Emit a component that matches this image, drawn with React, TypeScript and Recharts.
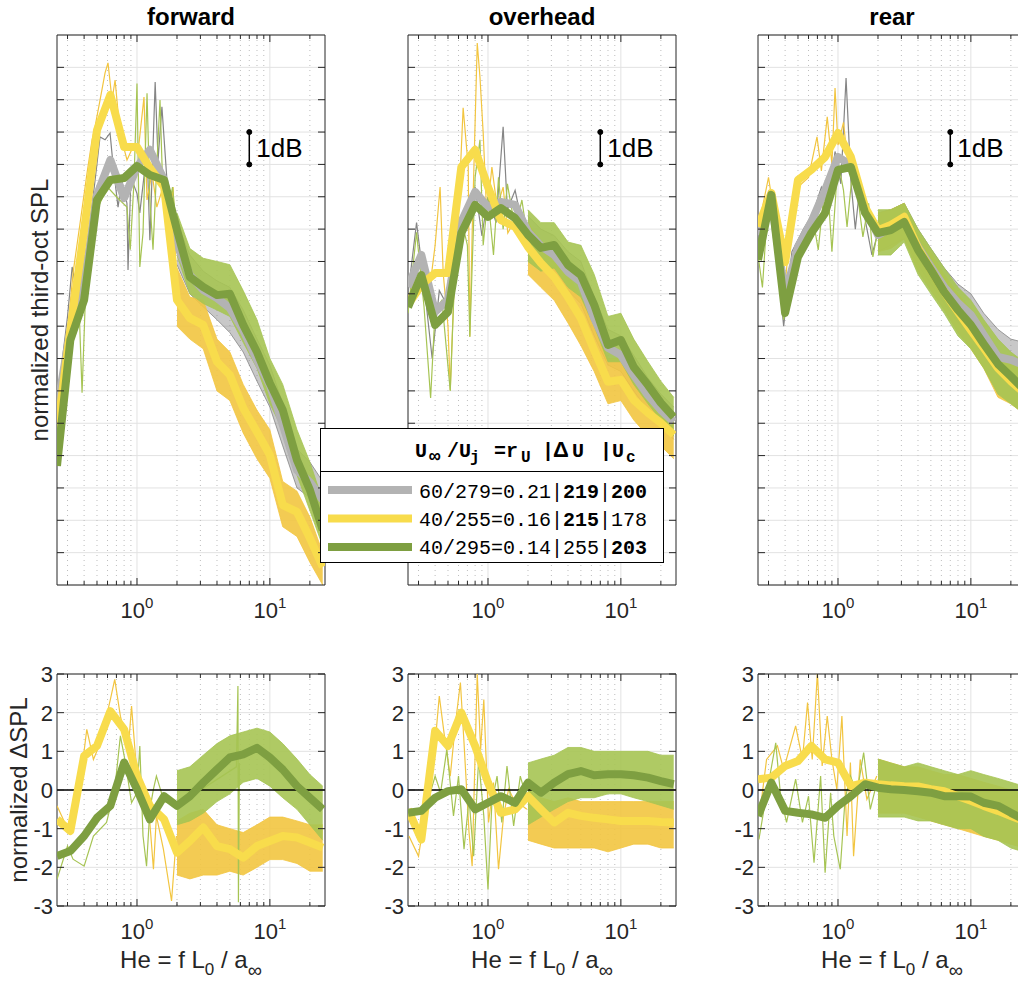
import React from 'react';
import {
  ComposedChart, Line, Area, XAxis, YAxis, CartesianGrid,
  ReferenceLine, ReferenceDot, ReferenceArea,
} from 'recharts';

// third-octave Helmholtz numbers
const HE = [0.25, 0.315, 0.4, 0.5, 0.63, 0.8, 1, 1.25, 1.6, 2, 2.5, 3.15, 4, 5, 6.3, 8, 10, 12.5, 16, 20, 25];
const BAND_START = 9; // bands start at He = 2

const X_TICKS = [0.3, 0.4, 0.5, 0.6, 0.7, 0.8, 0.9, 1, 2, 3, 4, 5, 6, 7, 8, 9, 10, 20];
const X_MAJOR = [1, 10];
const X_MINOR = [0.3, 0.4, 0.5, 0.6, 0.7, 0.8, 0.9, 2, 3, 4, 5, 6, 7, 8, 9, 20];
const TOP_Y_TICKS = [1, 2, 3, 4, 5, 6, 7, 8, 9, 10, 11, 12, 13, 14, 15, 16];
const BOT_Y_TICKS = [-3, -2, -1, 0, 1, 2, 3];

// ---- top row: normalized third-octave SPL (dB, arbitrary offset) ----
const FWD_GRAY = [5.41, 7.88, 9.27, 12.06, 13.14, 11.96, 12.92, 13.45, 12.52, 10.51, 9.58, 9.12, 8.87, 8.56, 7.88, 6.96, 6.18, 4.95, 3.55, 3.18, 2.63];
const FWD_YELLOW = [4.7, 7.88, 10.97, 14.06, 15.15, 13.54, 13.54, 12.89, 12.3, 8.81, 8.25, 8.04, 6.9, 6.49, 5.47, 4.73, 4.02, 2.47, 2.26, 1.45, 0.56];
const FWD_GREEN = [3.68, 7.57, 8.81, 11.9, 12.52, 12.58, 12.95, 12.67, 12.52, 10.97, 9.52, 9.21, 8.96, 9.0, 8.04, 7.2, 6.24, 5.41, 3.86, 2.94, 1.7];

const OVH_GRAY = [9.21, 10.2, 8.44, 8.81, 11.22, 12.15, 11.68, 11.84, 11.75, 10.91, 10.48, 10.2, 9.68, 9.37, 8.25, 7.33, 7.11, 6.49, 5.87, 5.41, 5.04];
const OVH_YELLOW = [8.66, 9.27, 9.64, 9.64, 12.92, 13.45, 12.3, 11.28, 11.07, 10.45, 9.95, 9.52, 8.9, 8.25, 7.26, 6.28, 6.34, 5.72, 5.32, 5.01, 4.64];
const OVH_GREEN = [8.59, 9.58, 8.04, 8.44, 10.88, 11.75, 11.38, 11.65, 11.34, 10.82, 10.42, 10.51, 9.89, 9.58, 8.66, 7.42, 7.57, 6.74, 6.18, 5.63, 5.19];

const REAR_GRAY = [10.82, 11.9, 8.96, 10.45, 11.22, 12.21, 13.23, 12.98, 11.65, 10.82, 11.04, 11.28, 10.45, 9.83, 9.21, 8.72, 8.35, 7.73, 7.05, 6.96, 6.8];
const REAR_YELLOW = [11.07, 12.12, 9.98, 12.52, 12.83, 13.23, 13.97, 13.23, 11.68, 10.97, 11.13, 11.38, 10.42, 9.74, 9.06, 8.44, 7.88, 7.33, 6.7, 6.3, 5.95];
const REAR_GREEN = [10.05, 12.06, 8.41, 10.14, 10.88, 11.5, 12.83, 12.92, 11.5, 10.88, 10.97, 11.22, 10.36, 9.74, 9.06, 8.5, 8.04, 7.45, 6.83, 6.45, 6.05];

// narrow-band scatter envelopes (He = 2 ... 25)
const FWD_GRAY_BAND = [[9.9, 11.2], [9.0, 10.2], [8.6, 9.7], [8.2, 9.4], [7.8, 9.2], [7.2, 8.5], [6.3, 7.6], [5.5, 6.8], [4.3, 5.6], [3.0, 4.2], [2.7, 3.8], [2.0, 3.2]];
const FWD_YELLOW_BAND = [[8.0, 9.8], [7.6, 8.9], [7.3, 8.8], [6.0, 7.6], [5.7, 7.2], [4.7, 6.2], [3.9, 5.4], [3.3, 4.8], [1.8, 3.2], [1.5, 2.9], [0.7, 2.1], [0.0, 1.0]];
const FWD_GREEN_BAND = [[10.2, 11.5], [9.0, 10.4], [8.7, 10.1], [8.5, 10.0], [8.3, 9.9], [7.5, 9.1], [6.7, 8.2], [5.6, 7.0], [4.8, 6.2], [3.4, 4.8], [2.3, 3.8], [1.2, 2.6]];
const OVH_GRAY_BAND = [[10.3, 11.4], [9.9, 11.0], [9.6, 10.8], [9.1, 10.3], [8.7, 10.0], [7.7, 8.9], [6.8, 7.9], [6.6, 7.7], [6.0, 7.1], [5.4, 6.4], [4.9, 5.9], [4.5, 5.5]];
const OVH_YELLOW_BAND = [[9.6, 11.2], [9.2, 10.6], [8.8, 10.3], [8.1, 9.6], [7.4, 8.9], [6.6, 8.0], [5.6, 7.0], [5.7, 7.0], [5.1, 6.4], [4.6, 5.9], [4.3, 5.6], [3.9, 5.2]];
const OVH_GREEN_BAND = [[10.0, 11.6], [9.7, 11.2], [9.8, 11.2], [9.2, 10.6], [8.9, 10.5], [8.0, 9.6], [6.9, 8.3], [6.9, 8.4], [6.2, 7.6], [5.6, 6.9], [5.1, 6.3], [4.6, 5.8]];
const REAR_GRAY_BAND = [[10.3, 11.5], [10.5, 11.6], [10.7, 11.8], [9.9, 11.0], [9.3, 10.4], [8.7, 9.8], [8.1, 9.3], [7.8, 9.0], [7.2, 8.4], [6.6, 7.9], [6.5, 7.6], [6.4, 7.5]];
const REAR_YELLOW_BAND = [[10.3, 11.5], [10.4, 11.6], [10.7, 11.8], [9.7, 10.9], [9.1, 10.3], [8.5, 9.6], [7.8, 9.0], [7.3, 8.5], [6.7, 7.9], [5.8, 7.1], [5.6, 6.9], [5.3, 6.6]];
const REAR_GREEN_BAND = [[10.2, 11.6], [10.2, 11.6], [10.6, 11.8], [9.6, 11.0], [9.0, 10.4], [8.4, 9.8], [7.7, 9.2], [7.3, 8.8], [6.7, 8.2], [5.9, 7.6], [5.6, 7.2], [5.3, 6.9]];

// narrow-band raw spectra at low He ([He, value])
const FWD_GRAY_RAW = [[0.25, 5.6], [0.3, 8.3], [0.325, 9.83], [0.36, 8.8], [0.42, 10.5], [0.48, 12.4], [0.527, 13.85], [0.575, 13.76], [0.627, 13.97], [0.66, 13.0], [0.72, 11.68], [0.77, 12.5], [0.84, 11.8], [0.856, 9.74], [0.9, 12.6], [1.0, 12.1], [1.05, 11.5], [1.19, 13.45], [1.25, 10.66], [1.3, 12.7], [1.37, 15.55], [1.44, 13.14], [1.54, 14.78], [1.68, 12.52], [1.87, 11.38], [2.0, 10.9]];
const FWD_YELLOW_RAW = [[0.25, 4.9], [0.303, 7.98], [0.33, 9.64], [0.373, 11.19], [0.421, 12.74], [0.459, 13.76], [0.483, 14.16], [0.527, 14.99], [0.575, 15.83], [0.605, 16.14], [0.649, 14.99], [0.684, 15.61], [0.745, 13.97], [0.841, 13.14], [0.933, 13.54], [1.017, 13.35], [1.129, 15.08], [1.189, 11.9], [1.297, 12.74], [1.41, 11.68], [1.57, 12.3], [1.77, 11.5], [1.87, 12.3], [2.0, 8.81]];
const FWD_GREEN_RAW = [[0.25, 3.8], [0.33, 8.9], [0.36, 9.5], [0.386, 5.94], [0.41, 9.0], [0.5, 11.6], [0.6, 12.3], [0.7, 12.0], [0.84, 11.68], [0.89, 10.36], [0.95, 12.5], [1.0, 15.5], [1.05, 9.83], [1.11, 10.88], [1.19, 15.2], [1.25, 11.9], [1.32, 10.36], [1.4, 12.7], [1.49, 14.99], [1.57, 12.0], [1.7, 11.5], [1.85, 12.3], [2.0, 10.9]];
const OVH_GRAY_RAW = [[0.25, 9.0], [0.29, 11.2], [0.33, 9.3], [0.38, 7.0], [0.43, 9.1], [0.5, 8.6], [0.6, 11.0], [0.7, 11.6], [0.8, 12.3], [0.9, 10.8], [1.0, 12.0], [1.15, 11.2], [1.3, 14.16], [1.4, 11.6], [1.6, 12.2], [1.8, 11.2], [2.0, 11.0]];
const OVH_YELLOW_RAW = [[0.25, 8.9], [0.3, 9.6], [0.36, 9.0], [0.4, 10.5], [0.436, 12.3], [0.46, 9.64], [0.5, 8.0], [0.52, 6.03], [0.56, 9.6], [0.6, 11.5], [0.65, 14.75], [0.71, 12.92], [0.73, 7.67], [0.76, 10.88], [0.83, 16.75], [0.87, 15.7], [0.92, 13.97], [0.98, 11.38], [1.07, 12.92], [1.17, 11.68], [1.3, 12.3], [1.41, 10.88], [1.6, 11.3], [2.0, 10.5]];
const OVH_GREEN_RAW = [[0.25, 8.4], [0.29, 10.9], [0.33, 8.6], [0.37, 5.78], [0.4, 8.5], [0.45, 8.8], [0.52, 6.0], [0.56, 9.5], [0.63, 11.3], [0.7, 10.5], [0.73, 7.67], [0.8, 12.6], [0.87, 13.76], [0.92, 10.5], [1.0, 12.0], [1.1, 10.2], [1.2, 12.6], [1.3, 11.0], [1.4, 12.4], [1.6, 11.0], [1.8, 11.9], [2.0, 10.6]];
const REAR_GRAY_RAW = [[0.25, 10.6], [0.3, 12.0], [0.36, 9.5], [0.39, 8.0], [0.45, 10.3], [0.55, 11.0], [0.65, 11.5], [0.75, 12.3], [0.85, 11.8], [0.95, 13.4], [1.05, 12.4], [1.15, 15.67], [1.25, 12.5], [1.35, 11.0], [1.45, 12.2], [1.6, 11.3], [1.8, 10.2], [2.0, 10.9]];
const REAR_YELLOW_RAW = [[0.25, 11.0], [0.3, 12.6], [0.35, 10.8], [0.4, 9.3], [0.45, 11.5], [0.5, 12.3], [0.6, 12.6], [0.695, 13.85], [0.75, 12.8], [0.83, 14.47], [0.9, 13.0], [0.95, 15.36], [1.0, 13.6], [1.1, 14.3], [1.2, 12.8], [1.3, 13.3], [1.45, 12.0], [1.6, 11.6], [2.0, 10.9]];
const REAR_GREEN_RAW = [[0.25, 10.2], [0.27, 9.2], [0.3, 12.1], [0.35, 10.0], [0.39, 8.2], [0.45, 9.8], [0.55, 10.6], [0.65, 11.3], [0.71, 10.36], [0.78, 12.0], [0.85, 11.9], [0.9, 10.3], [1.0, 13.1], [1.1, 12.2], [1.17, 11.07], [1.3, 13.0], [1.4, 12.1], [1.54, 10.76], [1.7, 11.8], [1.83, 10.14], [2.0, 11.0]];

// ---- bottom row: normalized delta SPL ----
const FWD_D_YELLOW = [-0.76, -1.06, 0.88, 1.14, 2.04, 1.57, 0.36, -0.41, -0.76, -1.62, -1.32, -0.97, -1.45, -1.53, -1.75, -1.45, -1.32, -1.19, -1.23, -1.36, -1.49];
const FWD_D_GREEN = [-1.71, -1.58, -1.19, -0.72, -0.41, 0.71, 0.02, -0.76, -0.16, -0.41, -0.16, 0.19, 0.53, 0.84, 0.92, 1.09, 0.84, 0.53, 0.1, -0.2, -0.5];
const OVH_D_YELLOW = [-0.5, -1.28, 1.53, 1.14, 2.0, 1.14, 0.19, -0.59, -0.5, -0.16, -0.5, -0.84, -0.59, -0.67, -0.72, -0.76, -0.8, -0.8, -0.8, -0.83, -0.84];
const OVH_D_GREEN = [-0.59, -0.54, -0.2, -0.03, 0.02, -0.5, -0.33, -0.16, -0.33, 0.19, -0.07, 0.19, 0.41, 0.49, 0.38, 0.41, 0.41, 0.38, 0.32, 0.23, 0.15];
const REAR_D_YELLOW = [0.28, 0.32, 0.62, 0.75, 1.14, 0.79, 0.71, 0.1, 0.19, 0.15, 0.12, 0.1, 0.09, 0.02, -0.03, -0.16, -0.28, -0.41, -0.54, -0.67, -0.8];
const REAR_D_GREEN = [-0.67, 0.19, -0.54, -0.59, -0.63, -0.72, -0.41, -0.16, 0.15, 0.06, 0.02, 0, -0.03, -0.07, -0.16, -0.16, -0.17, -0.33, -0.41, -0.59, -0.76];

const FWD_D_YELLOW_BAND = [[-2.2, -0.8], [-2.3, -0.6], [-2.2, -0.5], [-2.2, -0.9], [-2.1, -1.0], [-2.2, -1.1], [-2.0, -0.9], [-1.8, -0.7], [-1.8, -0.7], [-1.9, -0.8], [-2.1, -0.9], [-2.1, -0.9]];
const FWD_D_GREEN_BAND = [[-0.9, 0.5], [-0.8, 0.6], [-0.6, 0.9], [-0.3, 1.2], [-0.1, 1.4], [0.2, 1.5], [0.3, 1.6], [0.1, 1.5], [-0.2, 1.2], [-0.5, 0.8], [-0.9, 0.4], [-1.3, 0.1]];
const OVH_D_YELLOW_BAND = [[-1.3, 0.0], [-1.4, -0.2], [-1.5, -0.3], [-1.5, -0.2], [-1.5, -0.3], [-1.5, -0.3], [-1.6, -0.3], [-1.5, -0.3], [-1.4, -0.3], [-1.4, -0.3], [-1.5, -0.3], [-1.5, -0.3]];
const OVH_D_GREEN_BAND = [[-0.9, 0.7], [-0.7, 0.8], [-0.5, 0.9], [-0.3, 1.1], [-0.2, 1.1], [-0.2, 1.0], [-0.1, 1.0], [-0.1, 1.0], [-0.2, 1.0], [-0.3, 1.0], [-0.4, 0.9], [-0.5, 0.9]];
const REAR_D_YELLOW_BAND = [[-0.6, 0.8], [-0.6, 0.7], [-0.6, 0.6], [-0.7, 0.6], [-0.8, 0.5], [-0.9, 0.4], [-1.0, 0.4], [-1.1, 0.3], [-1.2, 0.2], [-1.3, 0.1], [-1.4, 0.0], [-1.5, -0.1]];
const REAR_D_GREEN_BAND = [[-0.7, 0.8], [-0.7, 0.7], [-0.7, 0.6], [-0.8, 0.7], [-0.8, 0.6], [-0.9, 0.5], [-1.0, 0.4], [-1.0, 0.5], [-1.2, 0.4], [-1.3, 0.3], [-1.5, 0.2], [-1.6, 0.1]];

const FWD_D_YELLOW_RAW = [[0.25, -0.41], [0.3, -1.0], [0.35, -0.6], [0.419, 1.57], [0.47, 0.79], [0.53, 1.22], [0.63, 2.34], [0.68, 2.86], [0.75, 1.91], [0.86, 1.05], [0.91, 2.17], [1.0, 0.36], [1.11, -0.5], [1.2, -0.07], [1.33, -2.05], [1.4, -0.67], [1.58, -1.53], [1.82, -2.87], [1.98, -1.19]];
const FWD_D_GREEN_RAW = [[0.25, -2.31], [0.3, -1.45], [0.33, -1.79], [0.4, -1.97], [0.47, -1.19], [0.59, -0.84], [0.68, 0.02], [0.75, 1.4], [0.81, 0.79], [0.91, -0.33], [1.0, -0.07], [1.05, 1.14], [1.11, -1.19], [1.18, -1.97], [1.25, -0.5], [1.33, 0.02], [1.4, 0.36], [1.6, -0.3], [2.0, -0.4], [5.6, 0.6], [5.75, 2.69], [5.8, -2.9], [5.9, 0.7]];
const OVH_D_YELLOW_RAW = [[0.254, -1.19], [0.3, -1.71], [0.39, 0.79], [0.43, 2.43], [0.47, 1.4], [0.52, 0.36], [0.57, 1.74], [0.62, 2.78], [0.66, 1.22], [0.72, -1.1], [0.76, -1.97], [0.83, 3.0], [0.88, 1.05], [0.93, 2.34], [1.01, -0.84], [1.1, 0.19], [1.2, -2.05], [1.31, -0.67], [1.43, 0.02], [1.56, -0.24], [1.96, -0.5]];
const OVH_D_GREEN_RAW = [[0.25, -0.5], [0.29, -1.19], [0.35, -0.33], [0.4, 0.36], [0.44, -0.07], [0.49, 1.05], [0.55, -0.67], [0.6, 0.36], [0.66, -1.53], [0.72, -0.24], [0.78, -1.71], [0.85, 0.79], [0.93, -0.67], [1.0, -2.57], [1.07, -0.33], [1.17, 0.36], [1.27, -0.84], [1.39, 0.62], [1.56, -0.93], [1.75, 0.36], [1.96, -0.24]];
const REAR_D_YELLOW_RAW = [[0.262, -0.41], [0.29, 0.79], [0.35, 1.14], [0.39, 0.53], [0.48, 1.66], [0.54, 0.79], [0.59, 2.26], [0.64, 0.79], [0.7, 3.03], [0.76, 0.62], [0.83, 1.91], [0.9, 0.79], [0.98, 0.02], [1.07, 1.91], [1.17, -1.19], [1.24, 0.71], [1.31, -1.71], [1.47, 0.79], [1.65, -0.24], [1.96, 0.36]];
const REAR_D_GREEN_RAW = [[0.254, -1.28], [0.28, -0.41], [0.34, 1.22], [0.37, -0.16], [0.41, -0.84], [0.48, 0.28], [0.54, -0.84], [0.6, -0.16], [0.66, -1.88], [0.74, 0.36], [0.8, -2.14], [0.88, -0.07], [0.93, -1.19], [1.04, -2.05], [1.13, -0.24], [1.24, 0.36], [1.39, -0.07], [1.56, 0.97], [1.75, -0.5], [1.96, 0.19]];

const LEGEND_ROWS = [
  { color: '#b3b3b3', ratio: '60/279=0.21', du: '219', uc: '200', duBold: true, ucBold: true },
  { color: '#f8dc4c', ratio: '40/255=0.16', du: '215', uc: '178', duBold: true, ucBold: false },
  { color: '#7e9f41', ratio: '40/295=0.14', du: '255', uc: '203', duBold: false, ucBold: true },
];

const C = {
  gray: '#b3b3b3', yellow: '#f8dc4c', green: '#7e9f41',
  grayThin: '#858585', yellowThin: '#f2c540', greenThin: '#a6c453',
  axis: '#262626', grid: '#e2e2e2', minor: '#bdbdbd',
};
const FONT = '"Liberation Sans", Arial, Helvetica, sans-serif';
const MONO = '"Liberation Mono", "DejaVu Sans Mono", Courier, monospace';

function buildRows(gray, yellow, green, grayBand, yellowBand, greenBand) {
  return HE.map((he, i) => {
    const b = i - BAND_START;
    const pick = (arr) => (arr && b >= 0 ? arr[b] : undefined);
    return {
      he,
      gray: gray ? gray[i] : undefined,
      yellow: yellow[i],
      green: green[i],
      grayBand: pick(grayBand),
      yellowBand: pick(yellowBand),
      greenBand: pick(greenBand),
    };
  });
}
const toPts = (arr) => (arr ? arr.map(([he, v]) => ({ he, v })) : null);

const makeXTick = (plotH) => (props) => {
  const { x, y, payload } = props;
  const v = payload.value;
  const major = v === 1 || v === 10;
  const len = major ? 7 : 4;
  return (
    <g>
      <line x1={x} x2={x} y1={y} y2={y - len} stroke={C.axis} strokeWidth={1} />
      <line x1={x} x2={x} y1={y - plotH} y2={y - plotH + len} stroke={C.axis} strokeWidth={1} />
      {major ? (
        <text x={x} y={y + 33} textAnchor="middle" fontSize={22} fill={C.axis} fontFamily={FONT}>
          10<tspan dy={-10} fontSize={15}>{v === 1 ? '0' : '1'}</tspan>
        </text>
      ) : null}
    </g>
  );
};

const makeYTick = (plotW, showLabel) => (props) => {
  const { x, y, payload } = props;
  return (
    <g>
      <line x1={x} x2={x + 7} y1={y} y2={y} stroke={C.axis} strokeWidth={1} />
      <line x1={x + plotW} x2={x + plotW - 7} y1={y} y2={y} stroke={C.axis} strokeWidth={1} />
      {showLabel ? (
        <text x={x - 4} y={y} dy="0.36em" textAnchor="end" fontSize={22} fill={C.axis} fontFamily={FONT}>
          {payload.value}
        </text>
      ) : null}
    </g>
  );
};

const ML = 50, MT = 20, MR = 10, MB = 60;
const PW = 268;
const THICK = 8;

function Panel({ left, top, height, yDomain, yTicks, yLabels, rows, raws, hasGray, scaleBar, zeroLine }) {
  const [grayRaw, yellowRaw, greenRaw] = raws;
  return (
    <div style={{ position: 'absolute', left: left - ML, top: top - MT }}>
      <ComposedChart
        width={PW + ML + MR}
        height={height + MT + MB}
        data={rows}
        margin={{ top: MT, right: MR, bottom: 0, left: 0 }}
      >
        <CartesianGrid horizontal vertical verticalValues={X_MAJOR} stroke={C.grid} strokeWidth={1} />
        <CartesianGrid horizontal={false} vertical verticalValues={X_MINOR} stroke={C.minor} strokeWidth={1} strokeDasharray="1 4" />
        <XAxis
          dataKey="he" type="number" scale="log" domain={[0.25, 26]} allowDataOverflow
          ticks={X_TICKS} interval={0} tickSize={0} tickMargin={0} height={MB}
          axisLine={false} tickLine={false} tick={makeXTick(height)}
        />
        <YAxis
          type="number" domain={yDomain} allowDataOverflow ticks={yTicks} interval={0}
          tickSize={0} tickMargin={0} width={ML} axisLine={false} tickLine={false}
          tick={makeYTick(PW, yLabels)}
        />
        {hasGray ? (
          <Area dataKey="grayBand" stroke={C.grayThin} strokeWidth={0.8} fill={C.grayThin} fillOpacity={0.45} isAnimationActive={false} dot={false} activeDot={false} />
        ) : null}
        <Area dataKey="yellowBand" stroke={C.yellowThin} strokeWidth={0.8} fill={C.yellowThin} fillOpacity={0.9} isAnimationActive={false} dot={false} activeDot={false} />
        <Area dataKey="greenBand" stroke={C.greenThin} strokeWidth={0.8} fill={C.greenThin} fillOpacity={0.9} isAnimationActive={false} dot={false} activeDot={false} />
        {grayRaw ? (
          <Line data={grayRaw} dataKey="v" stroke={C.grayThin} strokeWidth={1.2} dot={false} activeDot={false} isAnimationActive={false} />
        ) : null}
        {yellowRaw ? (
          <Line data={yellowRaw} dataKey="v" stroke={C.yellowThin} strokeWidth={1.2} dot={false} activeDot={false} isAnimationActive={false} />
        ) : null}
        {greenRaw ? (
          <Line data={greenRaw} dataKey="v" stroke={C.greenThin} strokeWidth={1.2} dot={false} activeDot={false} isAnimationActive={false} />
        ) : null}
        {zeroLine ? <ReferenceLine y={0} stroke="#000" strokeWidth={1.5} /> : null}
        {hasGray ? (
          <Line dataKey="gray" stroke={C.gray} strokeWidth={THICK} dot={false} activeDot={false} isAnimationActive={false} strokeLinejoin="round" />
        ) : null}
        <Line dataKey="yellow" stroke={C.yellow} strokeWidth={THICK} dot={false} activeDot={false} isAnimationActive={false} strokeLinejoin="round" />
        <Line dataKey="green" stroke={C.green} strokeWidth={THICK} dot={false} activeDot={false} isAnimationActive={false} strokeLinejoin="round" />
        {scaleBar ? (
          <ReferenceLine
            segment={[{ x: 7, y: 13 }, { x: 7, y: 14 }]}
            stroke="#000" strokeWidth={1.5}
            label={{ value: '1dB', position: 'right', offset: 7, fontSize: 26, fill: '#000', fontFamily: FONT }}
          />
        ) : null}
        {scaleBar ? <ReferenceDot x={7} y={13} r={2.5} fill="#000" stroke="#000" /> : null}
        {scaleBar ? <ReferenceDot x={7} y={14} r={2.5} fill="#000" stroke="#000" /> : null}
        <ReferenceArea x1={0.25} x2={26} y1={yDomain[0]} y2={yDomain[1]} fill="none" fillOpacity={0} stroke={C.axis} strokeWidth={1} ifOverflow="visible" />
      </ComposedChart>
    </div>
  );
}

const TITLES = ['forward', 'overhead', 'rear'];
const PANEL_LEFTS = [57, 408, 758];

function Overlay() {
  return (
    <svg width={1018} height={985} style={{ position: 'absolute', left: 0, top: 0, pointerEvents: 'none' }}>
      {TITLES.map((t, i) => (
        <text key={t} x={PANEL_LEFTS[i] + PW / 2} y={25} textAnchor="middle" fontSize={24} fontWeight="bold" fill="#000" fontFamily={FONT}>{t}</text>
      ))}
      <text transform="translate(48,310) rotate(-90)" textAnchor="middle" fontSize={24} fill={C.axis} fontFamily={FONT}>normalized third-oct SPL</text>
      <text transform="translate(27,790) rotate(-90)" textAnchor="middle" fontSize={24} fill={C.axis} fontFamily={FONT}>normalized ΔSPL</text>
      {PANEL_LEFTS.map((l, i) => (
        <text key={i} x={l + PW / 2} y={968} textAnchor="middle" fontSize={24} fill={C.axis} fontFamily={FONT}>
          He = f L<tspan dy={7} fontSize={17}>0</tspan><tspan dy={-7}> / a</tspan><tspan dy={9} fontSize={20}>∞</tspan>
        </text>
      ))}
      {/* legend */}
      <rect x={320.5} y={428.5} width={343} height={134} fill="#fff" stroke="#000" strokeWidth={1} />
      <line x1={320.5} x2={663.5} y1={471.5} y2={471.5} stroke="#000" strokeWidth={1} />
      <text y={457} fontSize={20} fontWeight="bold" fill="#000" fontFamily={MONO}>
        <tspan x={415}>U</tspan><tspan x={429} dy={5} fontSize={19}>∞</tspan>
        <tspan x={447} dy={-5}>/U</tspan><tspan x={470} dy={5} fontSize={16}>j</tspan>
        <tspan x={494} dy={-5}>=r</tspan><tspan x={521} dy={5} fontSize={16}>U</tspan>
        <tspan x={542} dy={-5}>|</tspan>
        <tspan x={553} fontFamily={FONT} fontSize={22}>Δ</tspan>
        <tspan x={572}>U</tspan>
        <tspan x={600}>|U</tspan><tspan x={626} dy={5} fontSize={16}>c</tspan>
      </text>
      {LEGEND_ROWS.map((r, i) => (
        <g key={i}>
          <line x1={328} x2={412} y1={490 + i * 28.5} y2={490 + i * 28.5} stroke={r.color} strokeWidth={8} />
          <text x={419} y={498 + i * 28} fontSize={20} fill="#000" fontFamily={MONO}>
            {r.ratio}|<tspan fontWeight={r.duBold ? 'bold' : 'normal'}>{r.du}</tspan>|<tspan fontWeight={r.ucBold ? 'bold' : 'normal'}>{r.uc}</tspan>
          </text>
        </g>
      ))}
    </svg>
  );
}

const TOP_ROWS = [
  buildRows(FWD_GRAY, FWD_YELLOW, FWD_GREEN, FWD_GRAY_BAND, FWD_YELLOW_BAND, FWD_GREEN_BAND),
  buildRows(OVH_GRAY, OVH_YELLOW, OVH_GREEN, OVH_GRAY_BAND, OVH_YELLOW_BAND, OVH_GREEN_BAND),
  buildRows(REAR_GRAY, REAR_YELLOW, REAR_GREEN, REAR_GRAY_BAND, REAR_YELLOW_BAND, REAR_GREEN_BAND),
];
const TOP_RAWS = [
  [toPts(FWD_GRAY_RAW), toPts(FWD_YELLOW_RAW), toPts(FWD_GREEN_RAW)],
  [toPts(OVH_GRAY_RAW), toPts(OVH_YELLOW_RAW), toPts(OVH_GREEN_RAW)],
  [toPts(REAR_GRAY_RAW), toPts(REAR_YELLOW_RAW), toPts(REAR_GREEN_RAW)],
];
const BOT_ROWS = [
  buildRows(null, FWD_D_YELLOW, FWD_D_GREEN, null, FWD_D_YELLOW_BAND, FWD_D_GREEN_BAND),
  buildRows(null, OVH_D_YELLOW, OVH_D_GREEN, null, OVH_D_YELLOW_BAND, OVH_D_GREEN_BAND),
  buildRows(null, REAR_D_YELLOW, REAR_D_GREEN, null, REAR_D_YELLOW_BAND, REAR_D_GREEN_BAND),
];
const BOT_RAWS = [
  [null, toPts(FWD_D_YELLOW_RAW), toPts(FWD_D_GREEN_RAW)],
  [null, toPts(OVH_D_YELLOW_RAW), toPts(OVH_D_GREEN_RAW)],
  [null, toPts(REAR_D_YELLOW_RAW), toPts(REAR_D_GREEN_RAW)],
];

export default function App() {
  return (
    <div style={{ position: 'absolute', left: 0, top: 0, width: 1018, height: 985, overflow: 'hidden', background: '#fff', fontFamily: FONT }}>
      {PANEL_LEFTS.map((l, i) => (
        <Panel key={'t' + i} left={l} top={35} height={550} yDomain={[0, 17]} yTicks={TOP_Y_TICKS} yLabels={false} rows={TOP_ROWS[i]} raws={TOP_RAWS[i]} hasGray scaleBar zeroLine={false} />
      ))}
      {PANEL_LEFTS.map((l, i) => (
        <Panel key={'b' + i} left={l} top={674} height={232} yDomain={[-3, 3]} yTicks={BOT_Y_TICKS} yLabels rows={BOT_ROWS[i]} raws={BOT_RAWS[i]} hasGray={false} scaleBar={false} zeroLine />
      ))}
      <Overlay />
    </div>
  );
}
